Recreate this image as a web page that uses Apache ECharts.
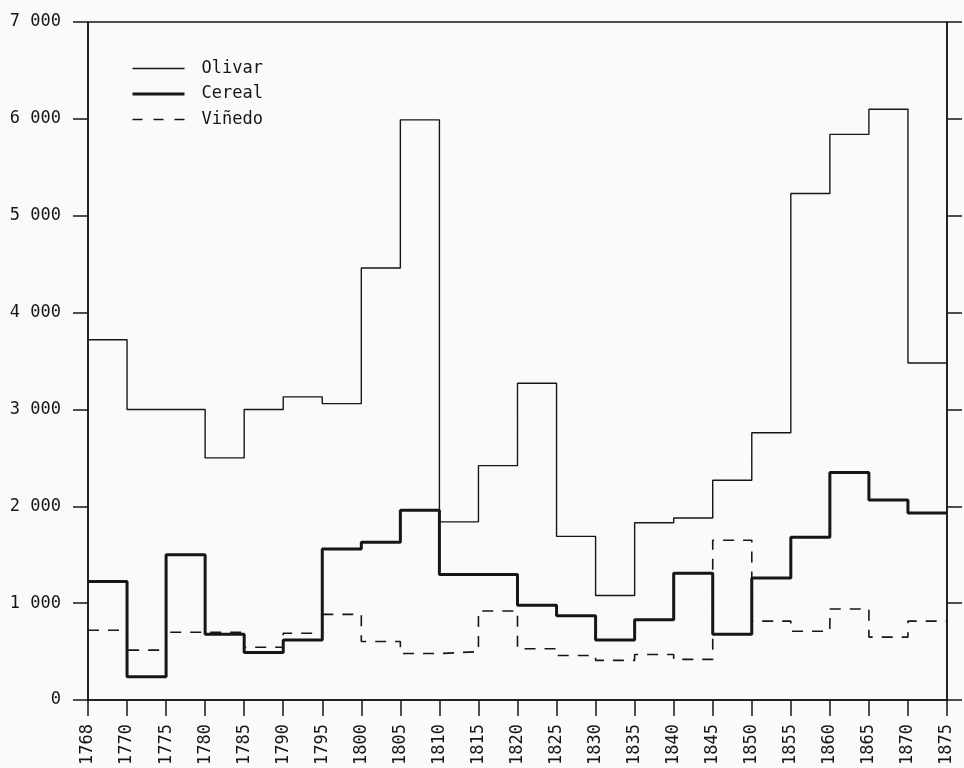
<!DOCTYPE html>
<html><head><meta charset="utf-8">
<script src="https://cdn.jsdelivr.net/npm/echarts@6/dist/echarts.min.js"></script>
<style>html,body{margin:0;padding:0;background:#fafafa}#c{width:964px;height:768px}</style>
</head><body><div id="c"></div>
<script>
// Year boundaries (tick labels on the x axis)
const years = ['1768','1770','1775','1780','1785','1790','1795','1800','1805','1810','1815','1820','1825','1830','1835','1840','1845','1850','1855','1860','1865','1870','1875'];
// Values per period (period i spans years[i] .. years[i+1])
const olivar = [3720,3000,3000,2500,3000,3130,3060,4460,5990,1840,2420,3270,1690,1080,1830,1880,2270,2760,5230,5840,6100,3480];
const cereal = [1225,240,1500,680,490,620,1560,1630,1960,1295,1295,980,870,620,830,1310,680,1260,1680,2350,2065,1930];
const vinedo = [720,515,700,700,545,690,885,605,480,500,920,530,460,410,470,420,1650,815,710,940,650,815];
const yTickLabels = ['0','1 000','2 000','3 000','4 000','5 000','6 000','7 000'];

const ink = '#161616';
const font = 'DejaVu Sans Mono';
// step 'end': each value holds until the next boundary; repeat last value at the final boundary
const stepData = arr => arr.concat([arr[arr.length - 1]]);

const styles = {
  Olivar: {color: ink, width: 1.4},
  Cereal: {color: ink, width: 3},
  'Viñedo': {color: ink, width: 1.6, type: [11, 9]}
};

const chart = echarts.init(document.getElementById('c'), null, {renderer: 'canvas'});
chart.setOption({
  backgroundColor: '#fafafa',
  animation: false,
  textStyle: {fontFamily: font, color: ink},
  grid: {left: 88, right: 17, top: 22, bottom: 66, show: true, borderColor: ink, borderWidth: 1.5, backgroundColor: 'transparent'},
  legend: {
    orient: 'vertical', left: 131, top: 60, padding: 0,
    itemWidth: 52, itemHeight: 17, itemGap: 8.5,
    itemStyle: {opacity: 0},
    textStyle: {fontFamily: font, fontSize: 17, color: ink, padding: [0, 0, 0, 12]},
    data: ['Olivar', 'Cereal', 'Viñedo'].map(n => ({name: n, lineStyle: Object.assign({}, styles[n], n === 'Viñedo' ? {type: [10, 11]} : {})}))
  },
  xAxis: {
    type: 'category', data: years, boundaryGap: false,
    axisLine: {lineStyle: {color: ink, width: 1.5}},
    axisTick: {length: 16, lineStyle: {color: ink, width: 1.5}},
    axisLabel: {rotate: 90, margin: 24, fontSize: 17, color: ink, fontFamily: font, interval: 0},
    splitLine: {show: false}
  },
  yAxis: [{
    type: 'value', min: 0, max: 7000, interval: 1000,
    axisLine: {show: true, lineStyle: {color: ink, width: 1.5}},
    axisTick: {show: true, length: 15, lineStyle: {color: ink, width: 1.5}},
    axisLabel: {margin: 27, fontSize: 17, color: ink, fontFamily: font, formatter: v => yTickLabels[Math.round(v / 1000)]},
    splitLine: {show: false}
  }, {
    type: 'value', position: 'right', min: 0, max: 7000, interval: 1000,
    axisLine: {show: true, lineStyle: {color: ink, width: 1.5}},
    axisTick: {show: true, length: 15, lineStyle: {color: ink, width: 1.5}},
    axisLabel: {show: false},
    splitLine: {show: false}
  }],
  series: [
    {name: 'Olivar', type: 'line', step: 'end', data: stepData(olivar), symbol: 'none',
      lineStyle: styles.Olivar, itemStyle: {color: ink}},
    {name: 'Cereal', type: 'line', step: 'end', data: stepData(cereal), symbol: 'none',
      lineStyle: styles.Cereal, itemStyle: {color: ink}},
    {name: 'Viñedo', type: 'line', step: 'end', data: stepData(vinedo), symbol: 'none',
      lineStyle: styles['Viñedo'], itemStyle: {color: ink}}
  ]
});
</script></body></html>
